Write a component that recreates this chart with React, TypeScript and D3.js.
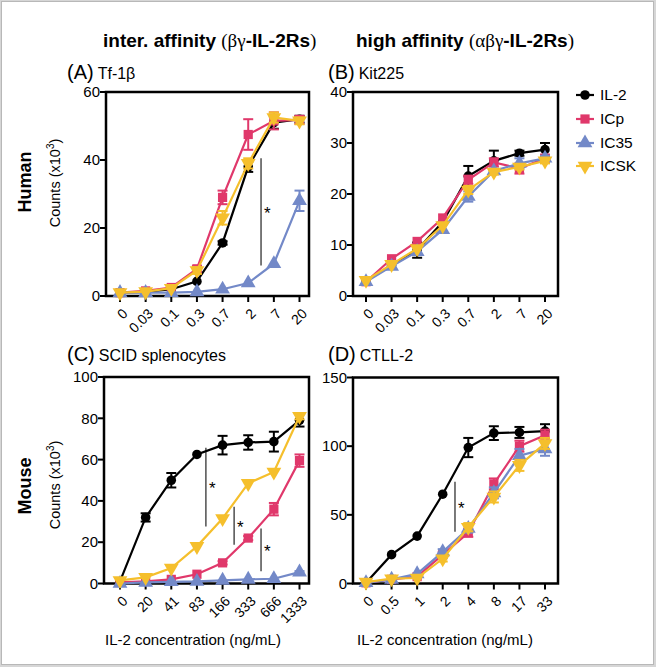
import React from 'react';
import * as d3 from 'd3';

const seriesNames = ['IL-2', 'ICp', 'IC35', 'ICSK'];
const seriesColors = ['#000000', '#E0386B', '#7389C8', '#F5BF2C'];

const xLabelsHuman = ['0', '0.03', '0.1', '0.3', '0.7', '2', '7', '20'];
const xLabelsC = ['0', '20', '41', '83', '166', '333', '666', '1333'];
const xLabelsD = ['0', '0.5', '1', '2', '4', '8', '17', '33'];

const yTicksA = [0, 20, 40, 60];
const yTicksB = [0, 10, 20, 30, 40];
const yTicksC = [0, 20, 40, 60, 80, 100];
const yTicksD = [0, 50, 100, 150];

// Panel A: Tf-1beta
const aIL2 = [1.0, 1.2, 2.0, 4.3, 15.6, 38.0, 51.0, 52.0];
const aICp = [1.0, 1.5, 2.5, 8.0, 29.0, 47.5, 51.5, 51.8];
const aIC35 = [1.0, 1.0, 1.0, 1.2, 2.0, 3.8, 9.5, 28.0];
const aICSK = [1.0, 1.3, 2.3, 7.5, 23.0, 39.0, 52.5, 51.5];
const aErrIL2 = [0, 0, 0, 0, 0.5, 1.5, 1.8, 1];
const aErrICp = [0, 0, 0, 0.8, 2, 4.5, 2.5, 1.2];
const aErrIC35 = [0, 0, 0, 0, 0, 0, 0, 3];
const aErrICSK = [0, 0, 0, 1, 2, 1.5, 1.5, 1];

// Panel B: Kit225
const bIL2 = [3.0, 6.0, 9.0, 14.5, 23.5, 26.5, 28.0, 28.7];
const bICp = [2.8, 7.3, 10.7, 15.3, 22.8, 26.2, 25.0, 27.0];
const bIC35 = [2.8, 5.8, 8.7, 13.0, 19.5, 24.5, 26.0, 27.0];
const bICSK = [3.1, 6.2, 9.3, 13.8, 20.8, 24.3, 25.3, 26.5];
const bErrIL2 = [0, 0, 1.5, 0, 2, 2, 0.5, 1.3];
const bErrICp = [0, 0, 0, 0, 0.8, 0.8, 1, 0.7];
const bErrIC35 = [0, 0, 0, 0, 1, 0.5, 1, 0.5];
const bErrICSK = [0, 0, 0, 0, 0.8, 0.5, 0.5, 0.5];

// Panel C: SCID splenocytes
const cIL2 = [1.0, 32.0, 50.0, 62.5, 67.0, 68.3, 68.7, 79.0];
const cICp = [0.5, 1.0, 2.0, 4.5, 10.0, 22.0, 36.0, 59.5];
const cIC35 = [0.0, 0.5, 0.8, 1.0, 1.5, 2.0, 2.3, 5.5];
const cICSK = [1.5, 3.0, 7.5, 18.0, 31.5, 48.5, 54.0, 81.0];
const cErrIL2 = [0, 2, 3.5, 0, 4.5, 3.5, 4.8, 3];
const cErrICp = [0, 0, 0, 0, 0.8, 1, 3, 3];
const cErrIC35 = [0, 0, 0, 0, 0, 0, 0, 0.5];
const cErrICSK = [0, 0, 0, 0, 0, 0, 0, 1.5];

// Panel D: CTLL-2
const dIL2 = [0.5, 21.0, 34.5, 65.0, 99.0, 109.5, 110.0, 111.0];
const dICp = [0.5, 3.0, 5.0, 21.0, 37.0, 72.5, 100.0, 108.0];
const dIC35 = [0.5, 3.0, 7.0, 23.0, 40.0, 66.0, 93.0, 98.0];
const dICSK = [1.0, 3.5, 4.0, 18.0, 41.0, 63.0, 86.0, 102.0];
const dErrIL2 = [0, 0, 0, 0, 7, 5, 4, 5];
const dErrICp = [0, 0, 0, 2, 3, 4, 4, 4];
const dErrIC35 = [0, 0, 0, 2, 3, 4, 5, 5];
const dErrICSK = [0, 0, 0, 2, 3, 4, 4, 4];

// significance brackets: [x index position, y low, y high]
const sigA = [[5.5, 9, 40.5]];
const sigB: number[][] = [];
const sigC = [[3.35, 27.6, 65.7], [4.45, 18.8, 37.2], [5.5, 5.9, 26.6]];
const sigD = [[3.48, 37.7, 74]];

const FONT = "'Liberation Sans', Arial, Helvetica, sans-serif";

function Marker({ kind, x, y, color }: { kind: number; x: number; y: number; color: string }) {
  if (kind === 0) {
    const p = d3.symbol().type(d3.symbolCircle).size(72)();
    return <path d={p || ''} transform={`translate(${x},${y})`} fill={color} />;
  }
  if (kind === 1) {
    const p = d3.symbol().type(d3.symbolSquare).size(85)();
    return <path d={p || ''} transform={`translate(${x},${y})`} fill={color} />;
  }
  const p = d3.symbol().type(d3.symbolTriangle).size(95)();
  const rot = kind === 3 ? ' rotate(180)' : '';
  return <path d={p || ''} transform={`translate(${x},${y})${rot}`} fill={color} />;
}

type PanelProps = {
  left: number; right: number; top: number; bottom: number;
  x0: number; x1: number;
  xLabels: string[]; yTicks: number[];
  series: number[][]; errors: number[][]; sig: number[][];
};

function Panel(p: PanelProps) {
  const n = p.xLabels.length;
  const x = d3.scaleLinear().domain([0, n - 1]).range([p.x0, p.x1]);
  const yMax = p.yTicks[p.yTicks.length - 1];
  const y = d3.scaleLinear().domain([0, yMax]).range([p.bottom, p.top]);
  const line = d3.line<number>().x((_, i) => x(i)).y((d) => y(d));
  return (
    <g>
      {p.yTicks.map((t) => (
        <g key={'y' + t}>
          <line x1={p.left - 6} x2={p.left} y1={y(t)} y2={y(t)} stroke="#000" strokeWidth={2} />
          <text x={p.left - 6} y={y(t)} dy="0.35em" textAnchor="end" fontSize={15} fontFamily={FONT}>{t}</text>
        </g>
      ))}
      {p.xLabels.map((l, i) => (
        <g key={'x' + i}>
          <line x1={x(i)} x2={x(i)} y1={p.bottom} y2={p.bottom + 6} stroke="#000" strokeWidth={2} />
          <text transform={`translate(${x(i) + 5},${p.bottom + 15}) rotate(-45)`} dy="0.35em" textAnchor="end" fontSize={14} fontFamily={FONT}>{l}</text>
        </g>
      ))}
      <rect x={p.left} y={p.top} width={p.right - p.left} height={p.bottom - p.top} fill="none" stroke="#000" strokeWidth={2.5} />
      {p.sig.map((s, i) => (
        <g key={'s' + i}>
          <line x1={x(s[0])} x2={x(s[0])} y1={y(s[1])} y2={y(s[2])} stroke="#333" strokeWidth={1.3} />
          <text x={x(s[0]) + 3} y={y((s[1] + s[2]) / 2) + 7} fontSize={17} fontFamily={FONT}>*</text>
        </g>
      ))}
      {p.series.map((vals, si) => (
        <g key={'ser' + si}>
          <path d={line(vals) || ''} fill="none" stroke={seriesColors[si]} strokeWidth={2.2} />
          {vals.map((v, i) => {
            const e = p.errors[si][i];
            if (!e) return null;
            return (
              <g key={'e' + i} stroke={seriesColors[si]} strokeWidth={2}>
                <line x1={x(i)} x2={x(i)} y1={y(v - e)} y2={y(v + e)} />
                <line x1={x(i) - 5} x2={x(i) + 5} y1={y(v - e)} y2={y(v - e)} />
                <line x1={x(i) - 5} x2={x(i) + 5} y1={y(v + e)} y2={y(v + e)} />
              </g>
            );
          })}
          {vals.map((v, i) => (
            <Marker key={'m' + i} kind={si} x={x(i)} y={y(v)} color={seriesColors[si]} />
          ))}
        </g>
      ))}
    </g>
  );
}

export default function App() {
  const legendY = [95, 119, 143, 166];
  return (
    <svg width={656} height={667} style={{ position: 'absolute', left: 0, top: 0 }} fontFamily={FONT}>
      <rect x={0} y={0} width={656} height={667} fill="#d6d6d6" />
      <rect x={1.5} y={1.5} width={652} height={663} fill="#fff" stroke="#b8b8b8" strokeWidth={1} />

      <text x={103} y={47} fontSize={19} fontWeight="bold">
        inter. affinity <tspan fontWeight="normal" fontFamily="'Liberation Serif', serif">(βγ</tspan>-IL-2Rs<tspan fontWeight="normal" fontFamily="'Liberation Serif', serif">)</tspan>
      </text>
      <text x={356} y={47} fontSize={19} fontWeight="bold">
        high affinity <tspan fontWeight="normal" fontFamily="'Liberation Serif', serif">(αβγ</tspan>-IL-2Rs<tspan fontWeight="normal" fontFamily="'Liberation Serif', serif">)</tspan>
      </text>

      <text x={67} y={79}><tspan fontSize={20}>(A)</tspan><tspan fontSize={16} dx={4}>Tf-1β</tspan></text>
      <text x={328} y={79}><tspan fontSize={20}>(B)</tspan><tspan fontSize={16} dx={4}>Kit225</tspan></text>
      <text x={67} y={361}><tspan fontSize={20}>(C)</tspan><tspan fontSize={16} dx={4}>SCID splenocytes</tspan></text>
      <text x={328} y={361}><tspan fontSize={20}>(D)</tspan><tspan fontSize={16} dx={4}>CTLL-2</tspan></text>

      <text transform="translate(31,182) rotate(-90)" textAnchor="middle" fontSize={18} fontWeight="bold">Human</text>
      <text transform="translate(60,183) rotate(-90)" textAnchor="middle" fontSize={14.5}>Counts (x10<tspan dy={-6} fontSize={10}>3</tspan><tspan dy={6}>)</tspan></text>
      <text transform="translate(31,486) rotate(-90)" textAnchor="middle" fontSize={18} fontWeight="bold">Mouse</text>
      <text transform="translate(60,485) rotate(-90)" textAnchor="middle" fontSize={14.5}>Counts (x10<tspan dy={-6} fontSize={10}>3</tspan><tspan dy={6}>)</tspan></text>

      <Panel left={106} right={309} top={92} bottom={296} x0={120} x1={299.5}
        xLabels={xLabelsHuman} yTicks={yTicksA}
        series={[aIL2, aICp, aIC35, aICSK]} errors={[aErrIL2, aErrICp, aErrIC35, aErrICSK]} sig={sigA} />
      <Panel left={353} right={558} top={92} bottom={296} x0={366} x1={545}
        xLabels={xLabelsHuman} yTicks={yTicksB}
        series={[bIL2, bICp, bIC35, bICSK]} errors={[bErrIL2, bErrICp, bErrIC35, bErrICSK]} sig={sigB} />
      <Panel left={104} right={309} top={377} bottom={583.5} x0={120} x1={299.5}
        xLabels={xLabelsC} yTicks={yTicksC}
        series={[cIL2, cICp, cIC35, cICSK]} errors={[cErrIL2, cErrICp, cErrIC35, cErrICSK]} sig={sigC} />
      <Panel left={353} right={558} top={377.5} bottom={583.5} x0={366} x1={545}
        xLabels={xLabelsD} yTicks={yTicksD}
        series={[dIL2, dICp, dIC35, dICSK]} errors={[dErrIL2, dErrICp, dErrIC35, dErrICSK]} sig={sigD} />

      {seriesNames.map((nm, i) => (
        <g key={nm}>
          <line x1={576} x2={594} y1={legendY[i]} y2={legendY[i]} stroke={seriesColors[i]} strokeWidth={2.2} />
          <Marker kind={i} x={585} y={legendY[i]} color={seriesColors[i]} />
          <text x={600} y={legendY[i]} dy="0.35em" fontSize={15.5}>{nm}</text>
        </g>
      ))}

      <text x={105} y={645} fontSize={15}>IL-2 concentration (ng/mL)</text>
      <text x={357} y={645} fontSize={15}>IL-2 concentration (ng/mL)</text>
    </svg>
  );
}
